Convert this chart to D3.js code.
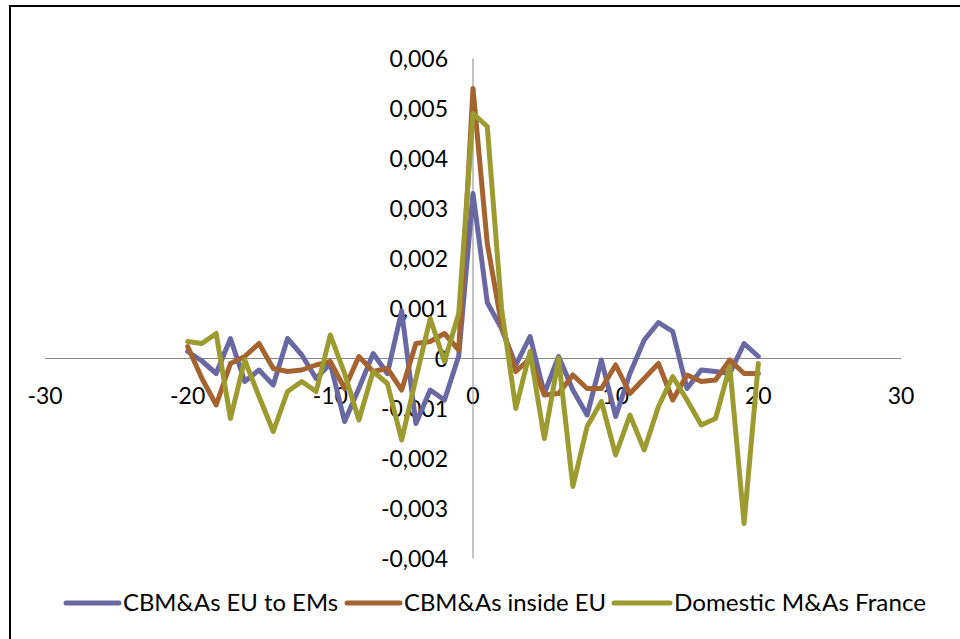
<!DOCTYPE html>
<html>
<head>
<meta charset="utf-8">
<script src="https://cdn.jsdelivr.net/npm/d3@7"></script>
<style>
  html, body { margin: 0; padding: 0; background: #fff; }
  svg { display: block; }
  text { font-family: Lato, "Open Sans", sans-serif; fill: #000; }
</style>
</head>
<body>
<svg id="chart" width="960" height="639"></svg>
<script>
// ---- data ----
const days = [-20,-19,-18,-17,-16,-15,-14,-13,-12,-11,-10,-9,-8,-7,-6,-5,-4,-3,-2,-1,0,
               1,2,3,4,5,6,7,8,9,10,11,12,13,14,15,16,17,18,19,20];

const euToEMs = [0.00014,-0.00005,-0.0003,0.0004,-0.00046,-0.00023,-0.00053,0.0004,0.00007,-0.0004,
                 -0.0001,-0.00126,-0.0006,0.0001,-0.0003,0.00095,-0.0013,-0.00063,-0.00083,0.00005,
                 0.0033,
                 0.00112,0.0006,-0.00013,0.00044,-0.0007,0.00004,-0.00063,-0.00113,-0.00003,-0.00116,
                 -0.0003,0.00037,0.00072,0.00054,-0.0006,-0.00023,-0.00026,-0.0003,0.0003,0.00004];

const insideEU = [0.00024,-0.0004,-0.00093,-0.0001,0.00004,0.0003,-0.0002,-0.00026,-0.00023,-0.00013,
                  -0.00006,-0.0006,0.00004,-0.00026,-0.0002,-0.00063,0.0003,0.00034,0.0005,0.00017,
                  0.0054,
                  0.0023,0.00068,-0.00026,0.0000,-0.00073,-0.0007,-0.00033,-0.0006,-0.0006,-0.00013,
                  -0.0007,-0.0004,-0.0001,-0.00083,-0.00033,-0.00046,-0.00043,-0.00003,-0.0003,-0.0003];

const domesticFR = [0.00034,0.0003,0.0005,-0.0012,-0.00003,-0.00076,-0.00146,-0.00066,-0.00046,-0.00066,
                    0.00047,-0.0003,-0.00123,-0.00026,-0.0005,-0.00163,-0.0004,0.0008,-0.00006,0.0009,
                    0.0049,
                    0.00464,0.001,-0.001,0.00014,-0.0016,0.0000,-0.00256,-0.00136,-0.00086,-0.00193,
                    -0.00113,-0.00183,-0.00096,-0.00036,-0.00083,-0.00133,-0.0012,-0.00016,-0.0033,-0.0001];

const seriesNames = ["CBM&As EU to EMs", "CBM&As inside EU", "Domestic M&As France"];
const seriesColors = ["#6A68A2", "#A5632F", "#9C9B30"];
const xTicks = [-30,-20,-10,0,10,20,30];
const yTicks = [-0.004,-0.003,-0.002,-0.001,0,0.001,0.002,0.003,0.004,0.005,0.006];

// ---- chart ----
const svg = d3.select("#chart");

// outer frame
svg.append("rect")
  .attr("x", 10).attr("y", 6)
  .attr("width", 1000).attr("height", 700)
  .attr("fill", "none").attr("stroke", "#000").attr("stroke-width", 2);

const x = d3.scaleLinear().domain([-30, 30]).range([45, 901]);
const y = d3.scaleLinear().domain([-0.004, 0.006]).range([558.5, 58.5]);

const fmtY = v => v === 0 ? "0" : d3.format(".3f")(v).replace(".", ",").replace("−", "-");

// horizontal axis at y=0
const xAxisG = svg.append("g").attr("transform", `translate(0,${y(0)})`);
xAxisG.append("line")
  .attr("x1", x(-30)).attr("x2", x(30))
  .attr("stroke", "#868686").attr("stroke-width", 1);
xAxisG.selectAll("text.xt").data(xTicks).join("text")
  .attr("class", "xt")
  .attr("x", d => x(d))
  .attr("y", 37)
  .attr("dy", "0.35em")
  .attr("text-anchor", "middle")
  .attr("font-size", 23)
  .text(d => d < 0 ? "-" + Math.abs(d) : String(d));

// vertical axis at x=0
const yAxisG = svg.append("g").attr("transform", `translate(${x(0)},0)`);
yAxisG.append("line")
  .attr("y1", y(0.006)).attr("y2", y(-0.004))
  .attr("stroke", "#868686").attr("stroke-width", 1);
yAxisG.selectAll("text.yt").data(yTicks).join("text")
  .attr("class", "yt")
  .attr("x", -25)
  .attr("y", d => y(d))
  .attr("dy", "0.35em")
  .attr("text-anchor", "end")
  .attr("font-size", 23)
  .text(d => fmtY(d));

// lines
const allSeries = [euToEMs, insideEU, domesticFR];
const line = d3.line()
  .x((d, i) => x(days[i]))
  .y(d => y(d));

svg.append("g").selectAll("path.series").data(allSeries).join("path")
  .attr("class", "series")
  .attr("d", d => line(d))
  .attr("fill", "none")
  .attr("stroke", (d, i) => seriesColors[i])
  .attr("stroke-width", 5)
  .attr("stroke-linejoin", "round")
  .attr("stroke-linecap", "round");

// legend
const legendItems = [
  { lx1: 66, lx2: 119, tx: 123, tw: 215 },
  { lx1: 347, lx2: 400, tx: 404, tw: 202 },
  { lx1: 614, lx2: 670, tx: 674, tw: 252 }
];
const legY = 603;
const lg = svg.append("g");
legendItems.forEach((it, i) => {
  lg.append("line")
    .attr("x1", it.lx1).attr("x2", it.lx2)
    .attr("y1", legY).attr("y2", legY)
    .attr("stroke", seriesColors[i]).attr("stroke-width", 5)
    .attr("stroke-linecap", "round");
  lg.append("text")
    .attr("x", it.tx).attr("y", legY)
    .attr("dy", "0.35em")
    .attr("font-size", 23)
    .attr("textLength", it.tw)
    .attr("lengthAdjust", "spacingAndGlyphs")
    .text(seriesNames[i]);
});
</script>
</body>
</html>
